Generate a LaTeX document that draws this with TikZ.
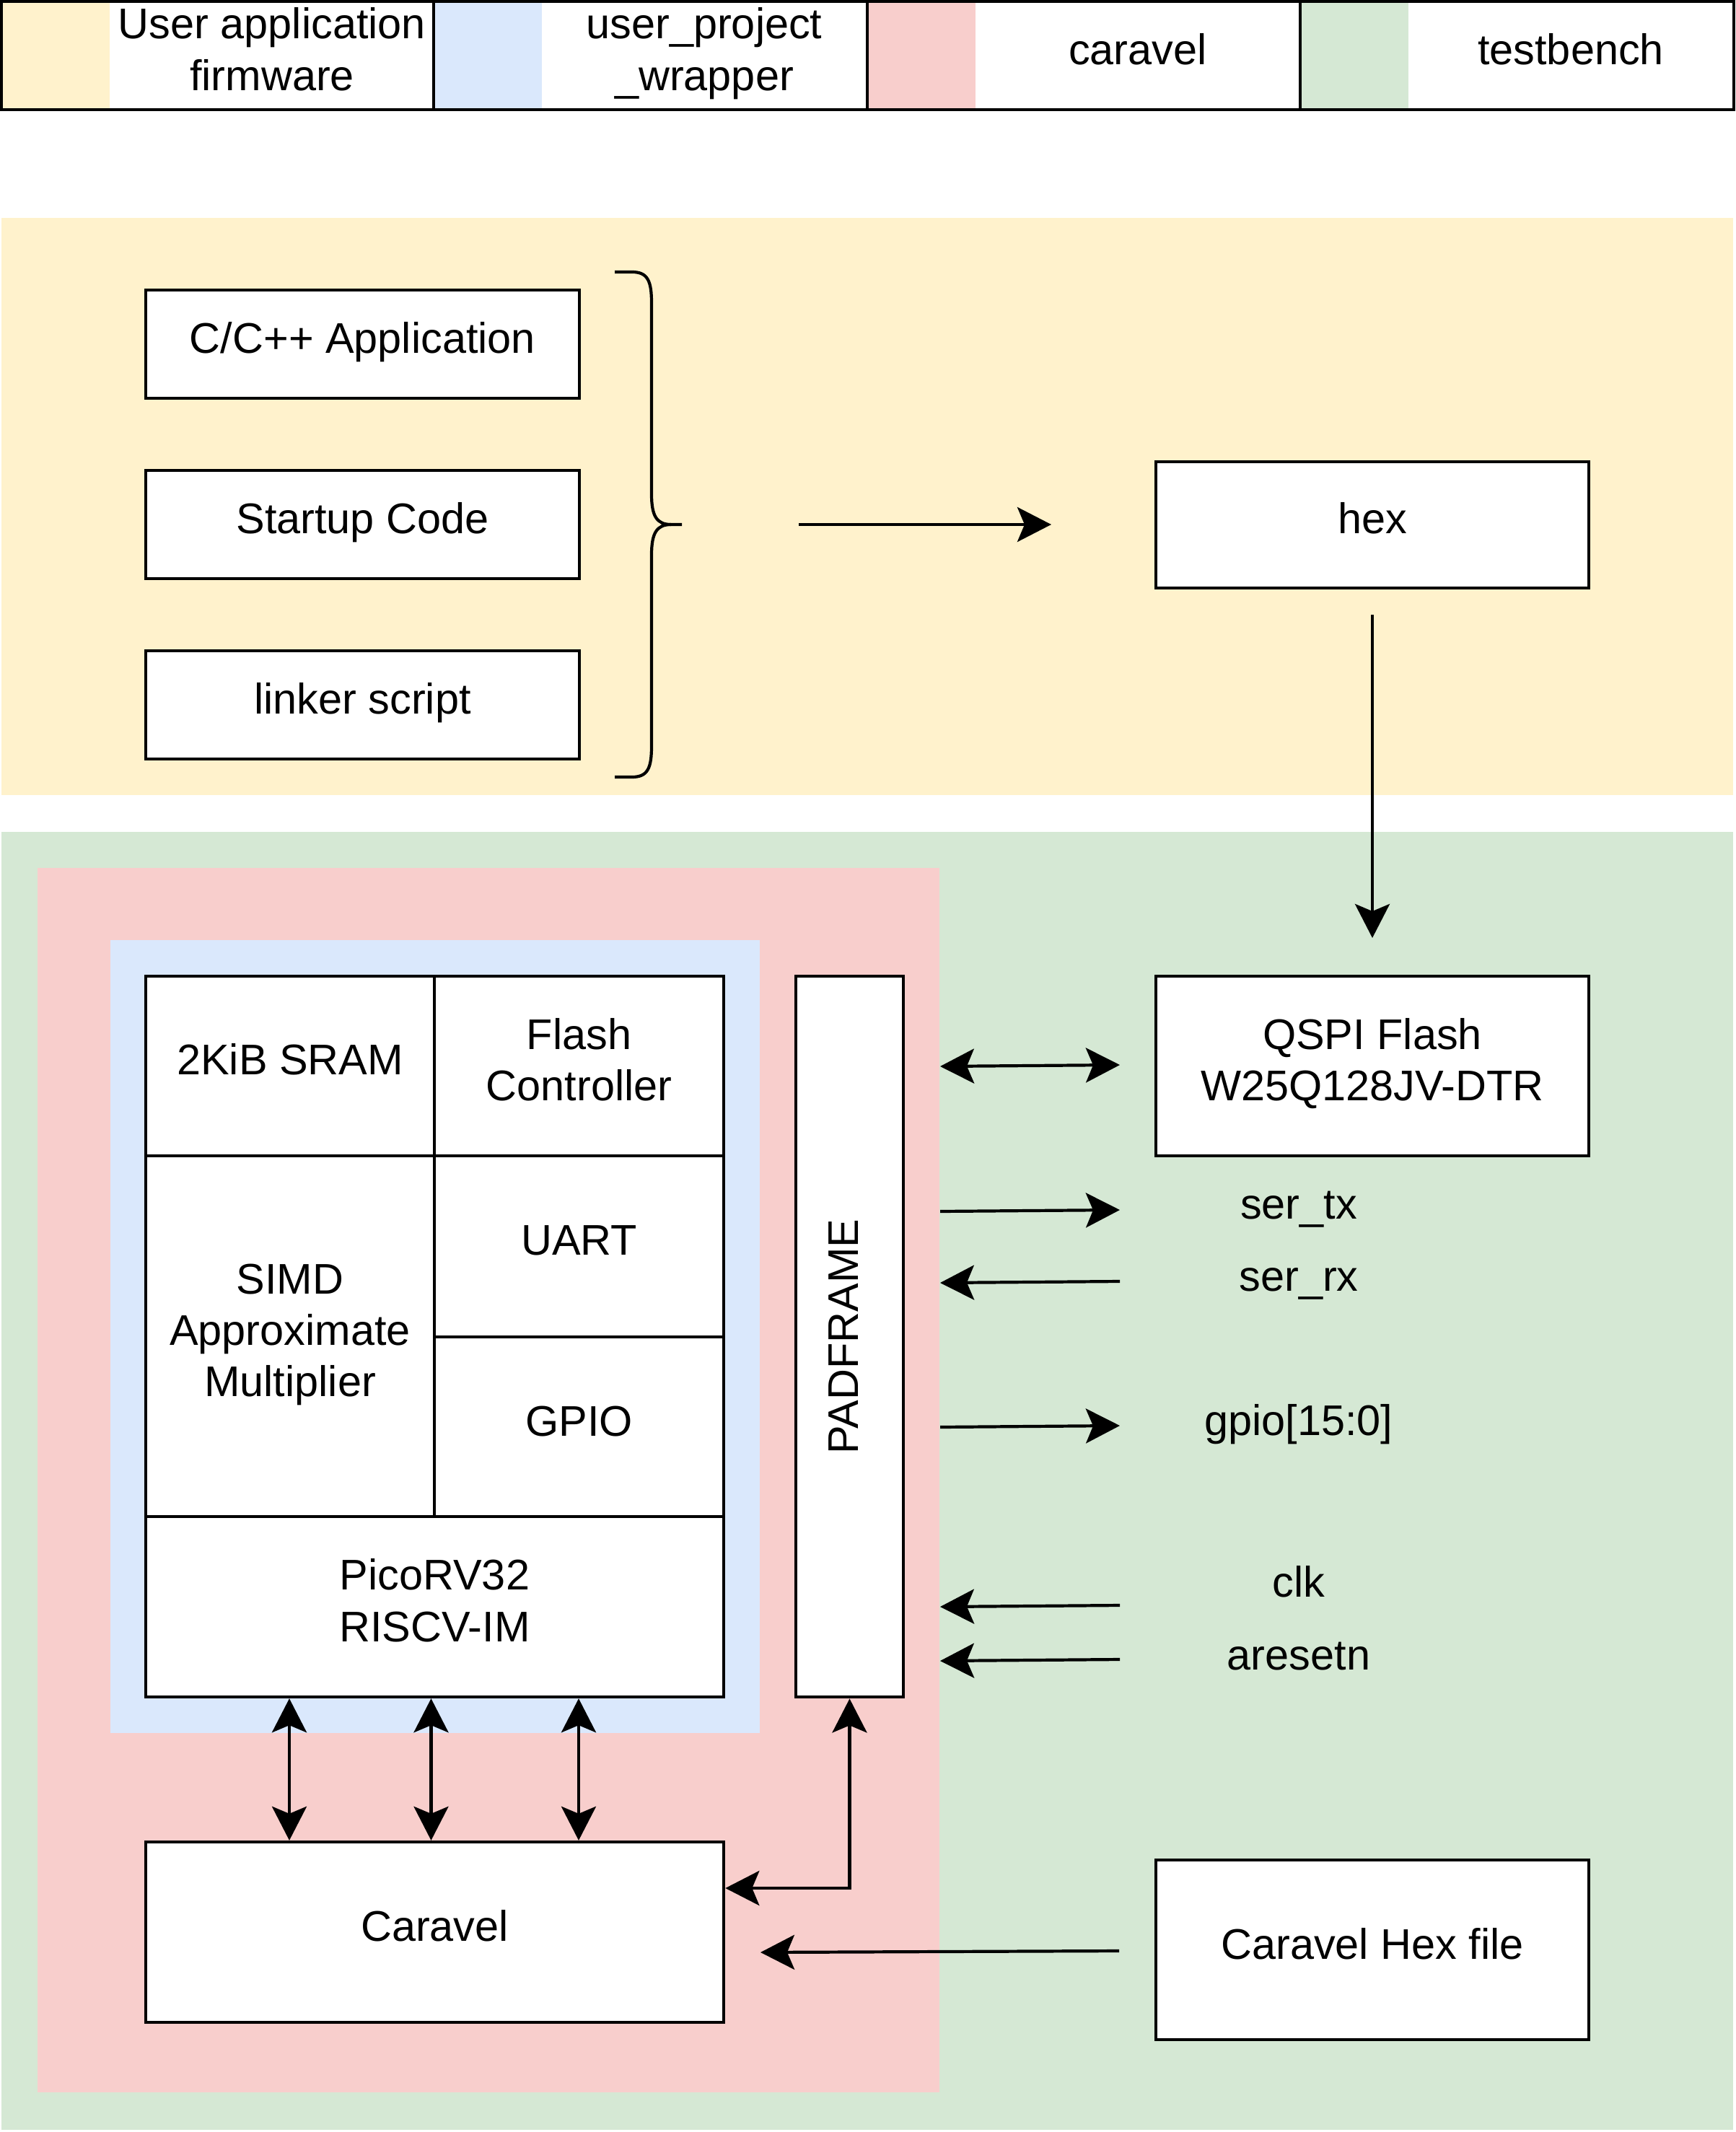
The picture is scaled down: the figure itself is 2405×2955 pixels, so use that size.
\documentclass[tikz,border=0pt]{standalone}
\usepackage{fontspec}
\setmainfont{Liberation Sans}
\usetikzlibrary{arrows.meta,calc}
\newcommand\mystrut{\rule[-0.39em]{0pt}{1.2em}}
\definecolor{cyel}{HTML}{FFF2CC}
\definecolor{cblu}{HTML}{DAE8FC}
\definecolor{cred}{HTML}{F8CECC}
\definecolor{cgrn}{HTML}{D5E8D4}
\begin{document}
\begin{tikzpicture}[x=0.01cm,y=-0.01cm,
  lw/.style={line width=0.042cm},
  txt/.style={font=\fontsize{16.9pt}{20.28pt}\selectfont, align=center, inner sep=0pt},
  box/.style={txt, draw, lw, fill=white},
  tipA/.tip={Stealth[length=0.47cm,width=0.48cm,inset=0.1cm]},
  arr/.style={lw, -tipA},
  arrb/.style={lw, tipA-tipA}]
\useasboundingbox (0,0) rectangle (2405,2955);
\fill[white] (0,0) rectangle (2405,2955);
% backgrounds
\fill[cyel] (2,302) rectangle (2402,1102);
\fill[cgrn] (2,1153) rectangle (2402,2952);
\fill[cred] (52,1203) rectangle (1302,2900);
\fill[cblu] (153,1303) rectangle (1053,2402);
% legend
\fill[cyel] (2,2) rectangle (152,152);
\fill[cblu] (601,2) rectangle (751,152);
\fill[cred] (1202,2) rectangle (1352,152);
\fill[cgrn] (1802,2) rectangle (1952,152);
\draw[lw] (2,2) rectangle (2403,152);
\draw[lw] (601,2) -- (601,152) (1202,2) -- (1202,152) (1802,2) -- (1802,152);
\node[txt] (lg1) at (377,77) {\mystrut User application\\\mystrut firmware};
\node[txt] (lg2) at (976,77) {\mystrut user\_project\\\mystrut \_wrapper};
\node[txt] (lg3) at (1577,77) {\mystrut caravel};
\node[txt] (lg4) at (2177,77) {\mystrut testbench};
% firmware boxes
\node[box, minimum width=6.01cm, minimum height=1.5cm] (capp) at (502.5,477) {\mystrut C/C++ Application};
\node[box, minimum width=6.01cm, minimum height=1.5cm] (startup) at (502.5,727) {\mystrut Startup Code};
\node[box, minimum width=6.01cm, minimum height=1.5cm] (linker) at (502.5,977) {\mystrut linker script};
\node[box, minimum width=6.0cm, minimum height=1.75cm] (hex) at (1902,727.5) {\mystrut hex};
% brace
\draw[lw] (852,377) -- (876,377) .. controls (898,377) and (903,390) .. (903,420) -- (903,685) .. controls (903,715) and (910,727) .. (930,727) -- (945,727);
\draw[lw] (930,727) .. controls (910,727) and (903,739) .. (903,769) -- (903,1034) .. controls (903,1064) and (898,1077) .. (876,1077) -- (852,1077);
% core blocks
\node[box, minimum width=4.0cm, minimum height=2.49cm] (sram) at (402,1477.5) {\mystrut 2KiB SRAM};
\node[box, minimum width=4.01cm, minimum height=2.49cm] (flashc) at (802.5,1477.5) {\mystrut Flash\\\mystrut Controller};
\node[box, minimum width=4.0cm, minimum height=5.0cm] (simd) at (402,1852) {\mystrut SIMD\\\mystrut Approximate\\\mystrut Multiplier};
\node[box, minimum width=4.01cm, minimum height=2.51cm] (uart) at (802.5,1727.5) {\mystrut UART};
\node[box, minimum width=4.01cm, minimum height=2.49cm] (gpio) at (802.5,1977.5) {\mystrut GPIO};
\node[box, minimum width=8.01cm, minimum height=2.5cm] (pico) at (602.5,2227) {\mystrut PicoRV32\\\mystrut RISCV-IM};
\node[box, minimum width=1.49cm, minimum height=9.99cm] (pad) at (1177.5,1852.5) {};
\node[txt, rotate=90] (padt) at (pad.center) {\mystrut PADFRAME};
\node[box, minimum width=8.01cm, minimum height=2.5cm] (caravel) at (602.5,2678) {\mystrut Caravel};
% testbench
\node[box, minimum width=6.0cm, minimum height=2.49cm] (qspi) at (1902,1477.5) {\mystrut QSPI Flash\\\mystrut W25Q128JV-DTR};
\node[box, minimum width=6.0cm, minimum height=2.49cm] (chex) at (1902,2702.5) {\mystrut Caravel Hex file};
\node[txt] (sertx) at (1800,1677) {\mystrut ser\_tx};
\node[txt] (serrx) at (1800,1777) {\mystrut ser\_rx};
\node[txt] (gpiol) at (1800,1977) {\mystrut gpio[15:0]};
\node[txt] (clkl) at (1800,2201) {\mystrut clk};
\node[txt] (rstl) at (1800,2302) {\mystrut aresetn};
% connector end points
\coordinate (b1) at (1107,727);
\coordinate (b2) at (1457,727);
\coordinate (h1) at (1902,852);
\coordinate (h2) at (1902,1300);
\coordinate (q1) at (1303,1478);
\coordinate (q2) at (1552,1476);
\coordinate (t1) at (1303,1679);
\coordinate (t2) at (1552,1677);
\coordinate (r1) at (1303,1778);
\coordinate (r2) at (1552,1776);
\coordinate (g1) at (1303,1978);
\coordinate (g2) at (1552,1976);
\coordinate (c1) at (1303,2227);
\coordinate (c2) at (1552,2225);
\coordinate (a1) at (1303,2302);
\coordinate (a2) at (1552,2300);
\coordinate (x1) at (1054,2706);
\coordinate (x2) at (1551,2704);
\coordinate (v1) at (401,0);
\coordinate (v2) at (597.5,0);
\coordinate (v3) at (802,0);
\coordinate (pe) at (0,2617);
% connectors
\draw[arr] (b1) -- (b2);
\draw[arr] (h1) -- (h2);
\draw[arrb] (q1) -- (q2);
\draw[arr] (t1) -- (t2);
\draw[arr] (r2) -- (r1);
\draw[arr] (g1) -- (g2);
\draw[arr] (c2) -- (c1);
\draw[arr] (a2) -- (a1);
\draw[arr] (x2) -- (x1);
\draw[arrb] (pico.south -| v1) -- (caravel.north -| v1);
\draw[arrb] (pico.south -| v2) -- (caravel.north -| v2);
\draw[arrb] (pico.south -| v3) -- (caravel.north -| v3);
\draw[arrb] (pad.south) -- (pad.south |- pe) -- (caravel.east |- pe);
\end{tikzpicture}
\end{document}
